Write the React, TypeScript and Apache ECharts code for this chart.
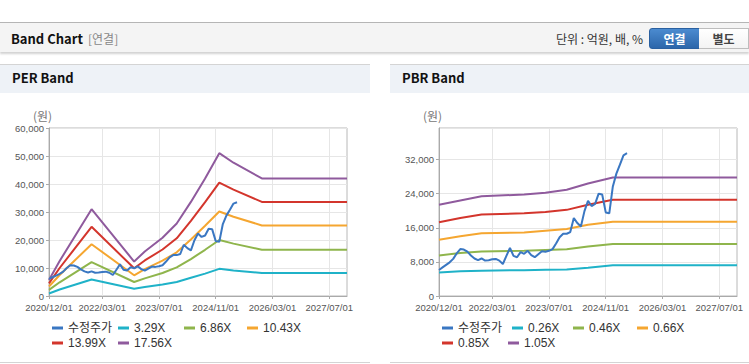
import React, { useEffect, useRef } from "react";
import * as echarts from "echarts";

// ---------- axis categories & labels ----------
const startYear = 2020;
const startMonth = 12;
const monthCount = 85; // 2020/12 .. 2027/12
const months: string[] = Array.from({ length: monthCount }, (_, i) => {
  const t = startMonth - 1 + i;
  const y = startYear + Math.floor(t / 12);
  const m = (t % 12) + 1;
  return `${y}/${String(m).padStart(2, "0")}/01`;
});
const labelDates = ["2020/12/01", "2022/03/01", "2023/07/01", "2024/11/01", "2026/03/01", "2027/07/01"];

// ---------- adjusted price (monthly, from 2020/12) ----------
const priceName = "수정주가";
const priceValues = [
  6100, 6700, 7300, 7900, 8700, 10000, 11000, 10900, 10400, 9500,
  8800, 8400, 8800, 8300, 8400, 8600, 8700, 8300, 7500, 9400,
  11300, 9400, 9100, 10300, 9900, 10600, 9600, 9100, 9800, 10500,
  10400, 10600, 11000, 12300, 13800, 14600, 14600, 15000, 18300, 17100,
  16300, 19900, 22300, 21100, 21600, 24000, 23800, 19600, 19400, 25700,
  28700, 30800, 33000, 33500,
];

// ---------- PER band ----------
const perNames = ["3.29X", "6.86X", "10.43X", "13.99X", "17.56X"];
const perKnotDates = [
  "2020/12/01", "2021/03/01", "2021/12/01", "2022/12/01", "2023/03/01", "2023/08/01", "2023/12/01",
  "2024/04/01", "2024/08/01", "2024/12/01", "2025/04/01", "2025/12/01", "2027/12/01",
];
const per3_29 = [900, 2300, 5900, 2600, 3200, 4100, 5000, 6500, 8000, 9700, 9100, 8200, 8200];
const per6_86 = [2200, 4900, 12100, 5000, 6300, 8200, 10200, 13200, 16500, 20000, 18700, 16500, 16500];
const per10_43 = [3400, 7500, 18500, 7400, 9600, 12600, 15600, 20200, 25100, 30200, 28300, 25200, 25200];
const per13_99 = [4500, 10000, 24700, 9900, 12700, 16600, 20600, 26800, 33500, 40500, 38000, 33600, 33600];
const per17_56 = [5700, 12500, 31000, 12300, 15900, 20800, 25900, 33600, 42000, 51000, 47600, 42000, 42000];

// ---------- PBR band ----------
const pbrNames = ["0.26X", "0.46X", "0.66X", "0.85X", "1.05X"];
const pbrKnotDates = [
  "2020/12/01", "2021/06/01", "2021/12/01", "2022/12/01", "2023/06/01",
  "2023/12/01", "2024/06/01", "2025/01/01", "2027/12/01",
];
const pbr0_26 = [5500, 5800, 5950, 6050, 6150, 6200, 6650, 7200, 7200];
const pbr0_46 = [9500, 10100, 10450, 10600, 10800, 10950, 11600, 12200, 12200];
const pbr0_66 = [13200, 14000, 14700, 14900, 15300, 15700, 16700, 17400, 17400];
const pbr0_85 = [17300, 18300, 19100, 19400, 19700, 20200, 21400, 22550, 22550];
const pbr1_05 = [21400, 22400, 23400, 23800, 24200, 24900, 26400, 27800, 27800];

const COLORS = {
  price: "#3a77c2",
  c1: "#1fb2c8",
  c2: "#8fb54c",
  c3: "#f5a630",
  c4: "#d3352c",
  c5: "#8f5a9d",
};

const AXIS_FONT = "'Liberation Sans', Arial, sans-serif";
const LEGEND_FONT = "'Liberation Sans', 'Noto Sans CJK KR', Arial, sans-serif";
const KR_FONT = "'Noto Sans CJK KR', 'Noto Sans', sans-serif";

const isLabel = (_i: number, v: string) => labelDates.includes(v);

function makeOption(cfg: {
  yMax: number;
  yInterval: number;
  bandNames: string[];
  knotDates: string[];
  bands: number[][];
  legendPos: [number, number][];
  gridLeft: number;
}) {
  const bandColors = [COLORS.c1, COLORS.c2, COLORS.c3, COLORS.c4, COLORS.c5];
  const names = [priceName, ...cfg.bandNames];
  const colors = [COLORS.price, ...bandColors];
  const series: any[] = cfg.bands.map((vals, bi) => ({
    name: cfg.bandNames[bi],
    type: "line",
    symbol: "none",
    z: 2,
    lineStyle: { width: 2, color: bandColors[bi] },
    itemStyle: { color: bandColors[bi] },
    data: cfg.knotDates.map((d, i) => [d, vals[i]]),
  }));
  series.unshift({
    name: priceName,
    type: "line",
    symbol: "none",
    z: 3,
    lineStyle: { width: 2, color: COLORS.price },
    itemStyle: { color: COLORS.price },
    data: priceValues.map((v, i) => [months[i], v]),
  });
  return {
    animation: false,
    grid: {
      left: cfg.gridLeft,
      top: 35,
      width: 298,
      height: 168,
      show: true,
      borderColor: "#b8b8b8",
      borderWidth: 1,
      containLabel: false,
    },
    graphic: [
      {
        type: "text",
        left: 33,
        top: 16,
        style: { text: "(원)", fill: "#777", font: `12px ${KR_FONT}` },
      },
    ],
    legend: names.map((n, i) => ({
      data: [{ name: n, icon: "rect" }],
      left: cfg.legendPos[i][0],
      top: cfg.legendPos[i][1],
      padding: 0,
      itemWidth: 11,
      itemHeight: 3,
      itemGap: 0,
      selectedMode: false,
      textStyle: { fontSize: 12, color: "#333", fontFamily: LEGEND_FONT },
    })),
    color: colors,
    xAxis: {
      type: "category",
      data: months,
      boundaryGap: false,
      axisLine: { lineStyle: { color: "#aaa" } },
      axisTick: { show: true, interval: isLabel, length: 3, lineStyle: { color: "#aaa" } },
      axisLabel: {
        interval: 0,
        hideOverlap: false,
        formatter: (v: string) => (labelDates.includes(v) ? v : ""),
        color: "#555",
        fontSize: 9.5,
        fontFamily: AXIS_FONT,
        margin: 6,
      },
      splitLine: { show: true, interval: isLabel, lineStyle: { color: "#e6e6e6" } },
    },
    yAxis: {
      type: "value",
      min: 0,
      max: cfg.yMax,
      interval: cfg.yInterval,
      axisLine: { show: true, lineStyle: { color: "#aaa" } },
      axisTick: { show: true, length: 3, lineStyle: { color: "#aaa" } },
      axisLabel: {
        color: "#555",
        fontSize: 9.5,
        fontFamily: AXIS_FONT,
        margin: 5,
        showMinLabel: true,
        showMaxLabel: cfg.yMax % cfg.yInterval === 0,
        formatter: (v: number) => v.toLocaleString("en-US"),
      },
      splitLine: { show: true, lineStyle: { color: "#e6e6e6" } },
    },
    series,
  };
}

function Chart({ option, style }: { option: any; style: React.CSSProperties }) {
  const ref = useRef<HTMLDivElement>(null);
  useEffect(() => {
    const chart = echarts.init(ref.current!, null, { renderer: "svg" });
    chart.setOption(option);
    return () => chart.dispose();
  }, []);
  return <div ref={ref} style={style} />;
}

const perOption = makeOption({
  yMax: 60000,
  yInterval: 10000,
  bandNames: perNames,
  knotDates: perKnotDates,
  bands: [per3_29, per6_86, per10_43, per13_99, per17_56],
  legendPos: [
    [52, 229],
    [118, 229],
    [184, 229],
    [247, 229],
    [52, 244],
    [118, 244],
  ],
  gridLeft: 49,
});

const pbrOption = makeOption({
  yMax: 39400,
  yInterval: 8000,
  bandNames: pbrNames,
  knotDates: pbrKnotDates,
  bands: [pbr0_26, pbr0_46, pbr0_66, pbr0_85, pbr1_05],
  legendPos: [
    [52, 229],
    [122, 229],
    [183, 229],
    [247, 229],
    [52, 244],
    [118, 244],
  ],
  gridLeft: 49,
});

const abs = (s: React.CSSProperties): React.CSSProperties => ({ position: "absolute", ...s });

export default function App() {
  useEffect(() => {
    document.body.style.margin = "0";
  }, []);
  return (
    <div style={abs({ left: 0, top: 0, width: 749, height: 364, background: "#fff", overflow: "hidden", fontFamily: KR_FONT })}>
      {/* top header bar */}
      <div
        style={abs({
          left: 0,
          top: 22,
          width: 749,
          height: 29,
          borderTop: "1px solid #b5b5b5",
          background: "#f4f4f4",
          boxShadow: "0 2px 2px rgba(0,0,0,0.18)",
        })}
      />
      <div style={abs({ left: 11, top: 29, height: 20, lineHeight: "20px", fontSize: 13, fontWeight: 700, color: "#111" })}>
        Band Chart
      </div>
      <div style={abs({ left: 88, top: 29, height: 20, lineHeight: "20px", fontSize: 12, color: "#888" })}>[연결]</div>
      <div style={abs({ right: 106, top: 29, height: 20, lineHeight: "20px", fontSize: 12, color: "#333" })}>
        단위 : 억원, 배, %
      </div>
      <div
        style={abs({
          left: 649,
          top: 28,
          width: 49,
          height: 19,
          lineHeight: "19px",
          textAlign: "center",
          fontSize: 12,
          fontWeight: 700,
          color: "#fff",
          background: "linear-gradient(#4b8bd0, #2c66aa)",
          border: "1px solid #2a60a0",
          borderRadius: "3px 0 0 3px",
        })}
      >
        연결
      </div>
      <div
        style={abs({
          left: 699,
          top: 28,
          width: 49,
          height: 19,
          lineHeight: "19px",
          textAlign: "center",
          fontSize: 12,
          fontWeight: 700,
          color: "#444",
          background: "linear-gradient(#ffffff, #f3f3f3)",
          border: "1px solid #bdbdbd",
          borderLeft: "none",
        })}
      >
        별도
      </div>

      {/* PER panel */}
      <div style={abs({ left: 0, top: 64, width: 370, height: 297, borderTop: "1px solid #d4d4d4", borderBottom: "1px solid #d4d4d4" })} />
      <div style={abs({ left: 0, top: 65, width: 370, height: 28, background: "#eef2f7" })} />
      <div style={abs({ left: 12, top: 68, height: 20, lineHeight: "20px", fontSize: 13, fontWeight: 700, color: "#111" })}>PER Band</div>
      <Chart option={perOption} style={abs({ left: 0, top: 93, width: 370, height: 268 })} />

      {/* PBR panel */}
      <div style={abs({ left: 390, top: 64, width: 359, height: 297, borderTop: "1px solid #d4d4d4", borderBottom: "1px solid #d4d4d4" })} />
      <div style={abs({ left: 390, top: 65, width: 359, height: 28, background: "#eef2f7" })} />
      <div style={abs({ left: 402, top: 68, height: 20, lineHeight: "20px", fontSize: 13, fontWeight: 700, color: "#111" })}>PBR Band</div>
      <Chart option={pbrOption} style={abs({ left: 390, top: 93, width: 359, height: 268 })} />
    </div>
  );
}
